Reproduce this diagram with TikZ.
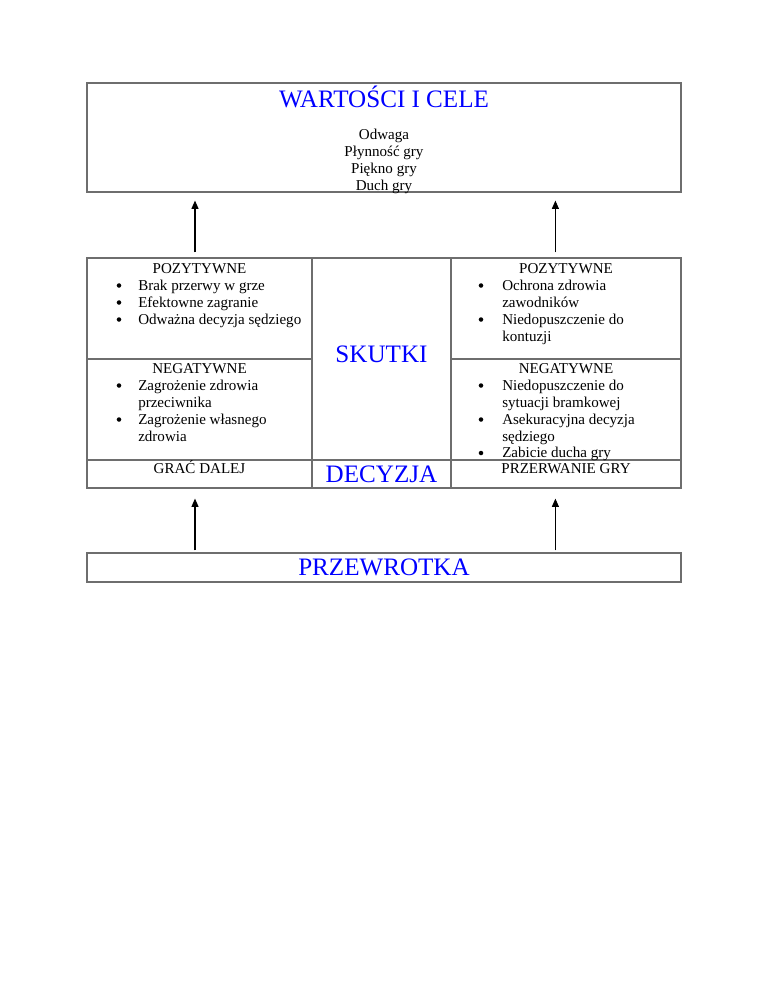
\documentclass[tikz,border=0pt]{standalone}
\usepackage{fontspec}
\setmainfont{Liberation Serif}
\usetikzlibrary{fit,arrows.meta}
\definecolor{ttlblue}{RGB}{0,0,255}
\definecolor{lncol}{RGB}{110,110,110}
\begin{document}
\begin{tikzpicture}[x=0.797pt,y=-0.797pt,
  cell/.style={draw=lncol,line width=0.9pt,inner sep=0pt},
  body/.style={font=\fontsize{12}{14}\selectfont,inner sep=0pt,anchor=base},
  bodyw/.style={body,anchor=base west},
  dot/.style={circle,fill=black,inner sep=0pt,minimum size=3.6pt},
  ttl/.style={font=\fontsize{20}{24}\selectfont,text=ttlblue,inner sep=0pt,anchor=base},
  arr/.style={-{Triangle[width=5.5pt,length=6.5pt]},line width=0.8pt,black}]
\useasboundingbox (0,0) rectangle (768,994);
% boxes
\node[cell,fit={(87,83) (681,192)}] (wart) {};
\node[cell,fit={(87,258) (312,359)}] (lp) {};
\node[cell,fit={(87,359) (312,460)}] (ln) {};
\node[cell,fit={(87,460) (312,488)}] (lg) {};
\node[cell,fit={(312,258) (451,460)}] (sk) {};
\node[cell,fit={(312,460) (451,488)}] (md) {};
\node[cell,fit={(451,258) (681,359)}] (rp) {};
\node[cell,fit={(451,359) (681,460)}] (rn) {};
\node[cell,fit={(451,460) (681,488)}] (rg) {};
\node[cell,fit={(87,553) (681,582)}] (prz) {};
% top box text
\node[ttl] (t0) at (384,107) {WARTOŚCI I CELE};
\node[body] (v1) at (384,139) {Odwaga};
\node[body] (v2) at (384,156) {Płynność gry};
\node[body] (v3) at (384,173) {Piękno gry};
\node[body] (v4) at (384,190) {Duch gry};
% middle titles
\node[ttl] (tsk) at (381.5,362) {SKUTKI};
\node[ttl] (tdec) at (381.5,482) {DECYZJA};
\node[ttl] (tprz) at (384,575) {PRZEWROTKA};
% left column
\node[body] (lph) at (199.5,273) {POZYTYWNE};
\node[dot] (lb1) at (119,285.5) {};
\node[bodyw] (l1) at (138,290) {Brak przerwy w grze};
\node[dot] (lb2) at (119,302.5) {};
\node[bodyw] (l2) at (138,307) {Efektowne zagranie};
\node[dot] (lb3) at (119,319.5) {};
\node[bodyw] (l3) at (138,324) {Odważna decyzja sędziego};
\node[body] (lnh) at (199.5,373) {NEGATYWNE};
\node[dot] (lb4) at (119,385.5) {};
\node[bodyw] (l4) at (138,390) {Zagrożenie zdrowia};
\node[bodyw] (l5) at (138,407) {przeciwnika};
\node[dot] (lb5) at (119,419.5) {};
\node[bodyw] (l6) at (138,424) {Zagrożenie własnego};
\node[bodyw] (l7) at (138,441) {zdrowia};
\node[body] (lgt) at (199.5,473) {GRAĆ DALEJ};
% right column
\node[body] (rph) at (566,273) {POZYTYWNE};
\node[dot] (rb1) at (481,285.5) {};
\node[bodyw] (r1) at (502,290) {Ochrona zdrowia};
\node[bodyw] (r2) at (502,307) {zawodników};
\node[dot] (rb2) at (481,319.5) {};
\node[bodyw] (r3) at (502,324) {Niedopuszczenie do};
\node[bodyw] (r4) at (502,341) {kontuzji};
\node[body] (rnh) at (566,373) {NEGATYWNE};
\node[dot] (rb3) at (481,385.5) {};
\node[bodyw] (r5) at (502,390) {Niedopuszczenie do};
\node[bodyw] (r6) at (502,407) {sytuacji bramkowej};
\node[dot] (rb4) at (481,419.5) {};
\node[bodyw] (r7) at (502,424) {Asekuracyjna decyzja};
\node[bodyw] (r8) at (502,441) {sędziego};
\node[dot] (rb5) at (481,453) {};
\node[bodyw] (r9) at (502,457.5) {Zabicie ducha gry};
\node[body] (rgt) at (566,473) {PRZERWANIE GRY};
% arrows
\coordinate (ax1) at (195,0);
\coordinate (ax2) at (555.4,0);
\draw[arr,shorten <=4pt,shorten >=6.4pt] (lp.north -| ax1) -- (wart.south -| ax1);
\draw[arr,shorten <=4pt,shorten >=6.4pt] (rp.north -| ax2) -- (wart.south -| ax2);
\draw[arr,shorten <=1.6pt,shorten >=8pt] (prz.north -| ax1) -- (lg.south -| ax1);
\draw[arr,shorten <=1.6pt,shorten >=8pt] (prz.north -| ax2) -- (rg.south -| ax2);
\end{tikzpicture}
\end{document}
